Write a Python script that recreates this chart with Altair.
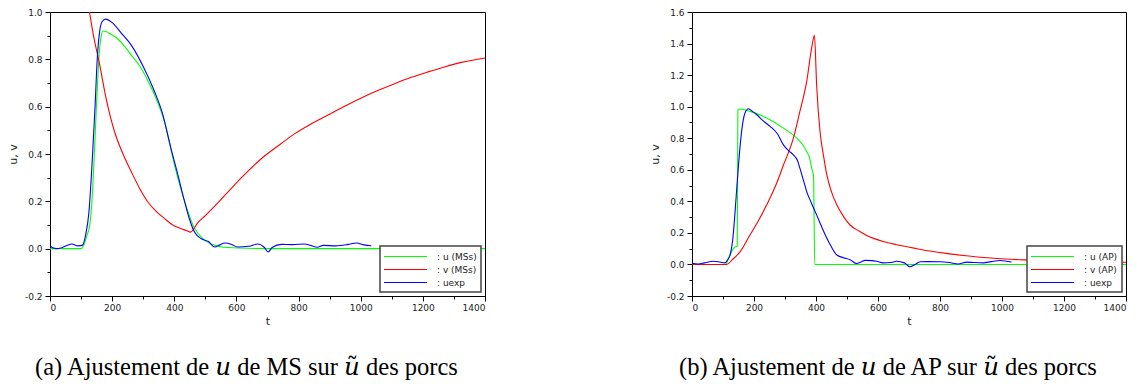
import altair as alt
import pandas as pd

# ---- Panel (a): MS model ----
ms_u_t = [0, 100, 110, 120, 128, 135, 142, 149, 155, 160, 165, 170, 180, 190, 215, 240, 262, 290, 315,
          337, 369, 401, 434, 466, 490, 530, 560, 603, 700, 1400]
ms_u_v = [0, 0, 0.02, 0.06, 0.10, 0.2, 0.38, 0.59, 0.75, 0.85, 0.90, 0.92, 0.918, 0.91, 0.89, 0.855, 0.817,
          0.77, 0.71, 0.648, 0.535, 0.352, 0.197, 0.084, 0.045, 0.014, 0.006, 0.003, 0, 0]

ms_v_t = [110, 127, 140, 158, 180, 208, 235, 262, 290, 315, 340, 369, 395, 423, 440, 452, 476, 500, 530,
          573, 620, 680, 740, 788, 840, 895, 950, 1002, 1055, 1109, 1163, 1217, 1270, 1324, 1400]
ms_v_v = [1.12, 1.0, 0.9, 0.79, 0.638, 0.493, 0.40, 0.324, 0.251, 0.197, 0.16, 0.127, 0.10, 0.084, 0.076,
          0.07, 0.11, 0.14, 0.18, 0.24, 0.305, 0.38, 0.44, 0.486, 0.527, 0.565, 0.603, 0.637, 0.668, 0.697,
          0.724, 0.747, 0.768, 0.787, 0.806]

ms_exp_t = [0, 20, 40, 70, 90, 105, 115, 125, 135, 145, 152, 160, 168, 179, 200, 230, 262, 300, 337, 360,
            390, 410, 428, 450, 465, 487, 510, 530, 545, 562, 585, 603, 640, 669, 690, 702, 715, 745, 780,
            820, 860, 880, 920, 960, 986, 1010, 1034]
ms_exp_v = [0.01, 0, 0.005, 0.02, 0.012, 0.015, 0.06, 0.15, 0.35, 0.6, 0.8, 0.92, 0.96, 0.97, 0.955, 0.91,
            0.859, 0.77, 0.662, 0.58, 0.42, 0.32, 0.225, 0.12, 0.07, 0.042, 0.03, 0.007, 0.015, 0.024, 0.018,
            0.007, 0.01, 0.02, 0.005, -0.014, 0.005, 0.018, 0.017, 0.02, 0.006, 0.014, 0.012, 0.018, 0.024,
            0.016, 0.012]

# ---- Panel (b): AP model ----
ap_u_t = [0, 108, 120, 130, 138, 146, 148, 152, 187, 241, 295, 338, 355, 370, 380, 386, 392, 396, 1400]
ap_u_v = [0, 0, 0.05, 0.09, 0.11, 0.115, 0.98, 0.985, 0.97, 0.928, 0.864, 0.80, 0.765, 0.716, 0.67, 0.61,
          0.56, 0, 0]

ap_v_t = [0, 112, 130, 155, 187, 215, 241, 270, 295, 327, 348, 370, 386, 395, 402, 413, 425, 435, 450, 467,
          490, 510, 540, 564, 617, 660, 725, 768, 820, 876, 930, 983, 1069, 1150, 1250, 1400]
ap_v_v = [0, 0, 0.03, 0.08, 0.187, 0.28, 0.378, 0.50, 0.63, 0.80, 0.97, 1.16, 1.372, 1.452, 1.139, 0.843,
          0.68, 0.568, 0.46, 0.378, 0.30, 0.25, 0.21, 0.183, 0.145, 0.125, 0.10, 0.085, 0.07, 0.057, 0.046,
          0.038, 0.029, 0.023, 0.018, 0.014]

ap_exp_t = [0, 20, 40, 69, 90, 106, 115, 123, 131, 139, 145, 150, 160, 171, 182, 195, 209, 230, 252, 275,
            295, 312, 327, 340, 348, 360, 370, 385, 402, 418, 435, 450, 467, 488, 510, 531, 545, 558, 580,
            595, 617, 640, 660, 685, 703, 720, 736, 760, 800, 830, 859, 886, 910, 940, 965, 994, 1031]
ap_exp_v = [0.008, 0.003, 0.01, 0.02, 0.015, 0.01, 0.03, 0.06, 0.15, 0.335, 0.5, 0.63, 0.843, 0.96, 0.987,
            0.97, 0.949, 0.91, 0.875, 0.83, 0.758, 0.72, 0.695, 0.66, 0.61, 0.53, 0.462, 0.39, 0.314, 0.24,
            0.166, 0.11, 0.06, 0.043, 0.03, 0.006, 0.015, 0.026, 0.024, 0.02, 0.01, 0.012, 0.02, 0.01,
            -0.015, 0.0, 0.017, 0.018, 0.017, 0.012, 0.003, 0.015, 0.012, 0.01, 0.018, 0.025, 0.015]

COLORS = ["#00ff00", "#ff0000", "#0000ff"]
TICK_FONT = "DejaVu Sans"

# math-italic u and u-tilde for the captions
U_IT = "\U0001D462"
U_TILDE = "\U0001D462\u0303"


def frame(series):
    rows = []
    for name, ts, vs in series:
        for t, v in zip(ts, vs):
            rows.append({"t": t, "val": v, "serie": name})
    return pd.DataFrame(rows)


def panel(series, ymax, caption, plot_w):
    names = [s[0] for s in series]
    df = frame(series)
    n_y = int(round((ymax + 0.2) * 10))
    y_ticks = [round(-0.2 + 0.1 * i, 1) for i in range(n_y + 1)]
    x_ticks = list(range(0, 1401, 100))
    return (
        alt.Chart(df)
        .mark_line(strokeWidth=1.1, clip=True, interpolate="monotone")
        .encode(
            x=alt.X(
                "t:Q",
                scale=alt.Scale(domain=[0, 1400], nice=False, zero=False),
                axis=alt.Axis(
                    values=x_ticks,
                    format="d",
                    labelExpr="datum.value % 200 === 0 ? datum.label : ''",
                    tickSize={"condition": {"test": "datum.value % 200 === 0", "value": 5}, "value": 3},
                    title="t",
                    titlePadding=3,
                    labelPadding=2,
                ),
            ),
            y=alt.Y(
                "val:Q",
                scale=alt.Scale(domain=[-0.2, ymax], nice=False, zero=False),
                axis=alt.Axis(
                    values=y_ticks,
                    labelExpr="abs(round(datum.value * 10)) % 2 === 0 ? "
                              "replace(format(datum.value, '.1f'), '\u2212', '-') : ''",
                    tickSize={"condition": {"test": "abs(round(datum.value * 10)) % 2 === 0", "value": 5},
                              "value": 3},
                    title="u, v",
                    titlePadding=6,
                    labelPadding=3,
                ),
            ),
            color=alt.Color(
                "serie:N",
                scale=alt.Scale(domain=names, range=COLORS),
                sort=names,
                legend=alt.Legend(
                    title=None,
                    orient="bottom-right",
                    offset=4,
                    padding=4,
                    fillColor="white",
                    strokeColor="#444444",
                    # a long flat stroke drawn from a small symbol size keeps rows compact
                    symbolType="M-3.91,0H3.91",
                    symbolSize=121,
                    symbolStrokeWidth=1.2,
                    symbolOffset=15,
                    labelOffset=25,
                    labelFontSize=9,
                    labelFont=TICK_FONT,
                    labelColor="#222222",
                    rowPadding=1,
                    labelExpr="': ' + datum.label",
                ),
            ),
        )
        .properties(
            width=plot_w,
            height=284,
            title=alt.TitleParams(
                caption,
                orient="bottom",
                anchor="middle",
                frame="bounds",
                font="Liberation Serif, DejaVu Serif",
                fontSize=24.5,
                fontWeight="normal",
                color="black",
                offset=30,
            ),
        )
    )


left = panel(
    [("u (MSs)", ms_u_t, ms_u_v), ("v (MSs)", ms_v_t, ms_v_v), ("uexp", ms_exp_t, ms_exp_v)],
    1.0,
    f"(a) Ajustement de {U_IT} de MS sur {U_TILDE} des porcs",
    435,
)
right = panel(
    [("u (AP)", ap_u_t, ap_u_v), ("v (AP)", ap_v_t, ap_v_v), ("uexp", ap_exp_t, ap_exp_v)],
    1.6,
    f"(b) Ajustement de {U_IT} de AP sur {U_TILDE} des porcs",
    434,
)

chart = (
    alt.hconcat(left, right, spacing=162)
    .resolve_scale(color="independent")
    .properties(padding={"left": 6, "top": 7, "right": 5, "bottom": 0})
    .configure_view(stroke="black", strokeWidth=1)
    .configure_legend(strokeWidth=1.5)
    .configure_axis(
        grid=False,
        domainColor="black",
        tickColor="black",
        labelFont=TICK_FONT,
        labelFontSize=9,
        labelColor="#222222",
        titleFont=TICK_FONT,
        titleFontSize=11,
        titleFontWeight="normal",
        titleColor="#222222",
    )
)

chart.save("out.html", embed_options={"renderer": "svg", "actions": False})
